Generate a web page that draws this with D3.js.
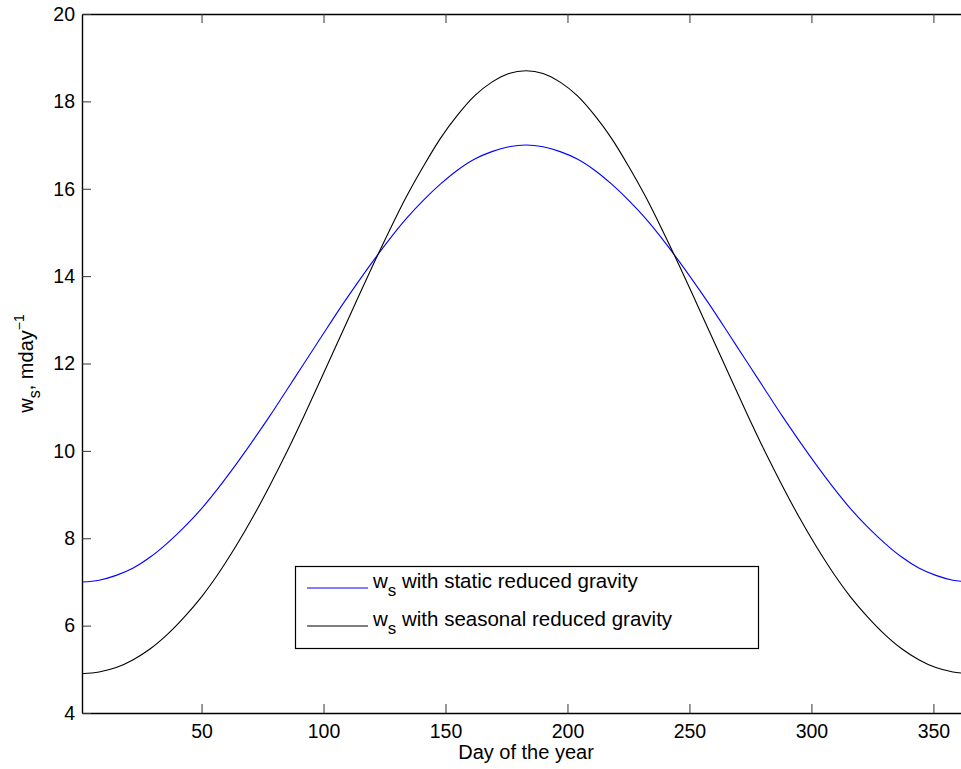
<!DOCTYPE html>
<html>
<head>
<meta charset="utf-8">
<script src="https://cdn.jsdelivr.net/npm/d3@7"></script>
<style>
  html, body { margin: 0; padding: 0; background: #fff; overflow: hidden; }
  svg { display: block; font-family: "Liberation Sans", Arial, Helvetica, sans-serif; }
</style>
</head>
<body>
<svg id="chart" width="961" height="769"></svg>
<script>
// Day of the year, sampled weekly
const days = [1, 8, 15, 22, 29, 36, 43, 50, 57, 64, 71, 78, 85, 92, 99, 106, 113, 120, 127, 134, 141, 148, 155, 162, 169, 176,
              183, 190, 197, 204, 211, 218, 225, 232, 239, 246, 253, 260, 267, 274, 281, 288, 295, 302, 309, 316, 323, 330,
              337, 344, 351, 358, 365];

// w_s (m/day) with static reduced gravity
const staticWs = [7.00, 7.04, 7.15, 7.32, 7.57, 7.89, 8.26, 8.68, 9.16, 9.68, 10.23, 10.80, 11.40, 12.00, 12.60, 13.20,
                  13.77, 14.32, 14.84, 15.32, 15.74, 16.11, 16.43, 16.68, 16.85, 16.96,
                  17.00,
                  16.96, 16.85, 16.68, 16.43, 16.11, 15.74, 15.32, 14.84, 14.32, 13.77, 13.20, 12.60, 12.00, 11.40, 10.80,
                  10.23, 9.68, 9.16, 8.68, 8.26, 7.89, 7.57, 7.32, 7.15, 7.04, 7.00];

// w_s (m/day) with seasonal reduced gravity
const seasonalWs = [4.90, 4.94, 5.04, 5.22, 5.47, 5.80, 6.20, 6.66, 7.20, 7.81, 8.48, 9.21, 9.98, 10.80, 11.65, 12.51,
                    13.37, 14.22, 15.04, 15.82, 16.52, 17.16, 17.69, 18.13, 18.44, 18.64,
                    18.70,
                    18.64, 18.44, 18.13, 17.69, 17.16, 16.52, 15.82, 15.04, 14.22, 13.37, 12.51, 11.65, 10.80, 9.98, 9.21,
                    8.48, 7.81, 7.20, 6.66, 6.20, 5.80, 5.47, 5.22, 5.04, 4.94, 4.90];

const xTicks = [50, 100, 150, 200, 250, 300, 350];
const yTicks = [4, 6, 8, 10, 12, 14, 16, 18, 20];

const seriesNames = ["static reduced gravity", "seasonal reduced gravity"];
const seriesColors = ["#0000ff", "#000000"];

const plotLeft = 82, plotTop = 14, plotRight = 970, plotBottom = 713;
const fontSize = 19.5;
const textSize = 20;

const svg = d3.select("#chart");

const x = d3.scaleLinear().domain([1, 365]).range([plotLeft, plotRight]);
const y = d3.scaleLinear().domain([4, 20]).range([plotBottom, plotTop]);

// Curves
const line = d3.line()
  .x((d, i) => x(days[i]))
  .y(d => y(d))
  .curve(d3.curveCatmullRom);

const plot = svg.append("g");
[staticWs, seasonalWs].forEach((vals, k) => {
  plot.append("path")
    .attr("d", line(vals))
    .attr("fill", "none")
    .attr("stroke", seriesColors[k])
    .attr("stroke-width", 1.1);
});

// Axes, ticks pointing inward
function styleAxis(g) {
  g.select(".domain").attr("stroke", "#000").attr("stroke-width", 1.4);
  g.selectAll(".tick line").attr("stroke", "#333").attr("stroke-width", 1);
  g.selectAll(".tick text")
    .attr("fill", "#000")
    .style("font-size", fontSize + "px")
    .style("font-family", "'Liberation Sans', Arial, Helvetica, sans-serif");
}

svg.append("g")
  .attr("transform", `translate(0,${plotBottom})`)
  .call(d3.axisBottom(x).tickValues(xTicks).tickSizeInner(-9).tickSizeOuter(0).tickPadding(11))
  .call(styleAxis);

svg.append("g")
  .attr("transform", `translate(0,${plotTop})`)
  .call(d3.axisTop(x).tickValues(xTicks).tickSizeInner(-9).tickSizeOuter(0).tickFormat(""))
  .call(styleAxis);

svg.append("g")
  .attr("transform", `translate(${plotLeft},0)`)
  .call(d3.axisLeft(y).tickValues(yTicks).tickSizeInner(-9).tickSizeOuter(0).tickPadding(7))
  .call(styleAxis);

svg.append("g")
  .attr("transform", `translate(${plotRight},0)`)
  .call(d3.axisRight(y).tickValues(yTicks).tickSizeInner(-9).tickSizeOuter(0).tickFormat(""))
  .call(styleAxis);

// Axis titles
svg.append("text")
  .attr("x", (plotLeft + plotRight) / 2)
  .attr("y", 759)
  .attr("text-anchor", "middle")
  .style("font-size", textSize + "px")
  .text("Day of the year");

const yl = svg.append("text")
  .attr("transform", `translate(33,${(plotTop + plotBottom) / 2}) rotate(-90)`)
  .attr("text-anchor", "middle")
  .style("font-size", textSize + "px");
yl.append("tspan").text("w");
yl.append("tspan").attr("dy", 7).style("font-size", "16px").text("s");
yl.append("tspan").attr("dy", -7).text(", mday");
yl.append("tspan").attr("dy", -9).style("font-size", "14px").text("\u22121");

// Legend
const legend = svg.append("g");
legend.append("rect")
  .attr("x", 295.5).attr("y", 566.5)
  .attr("width", 463).attr("height", 82)
  .attr("fill", "#fff")
  .attr("stroke", "#000")
  .attr("stroke-width", 1.2);

seriesNames.forEach((name, k) => {
  const ly = 588 + k * 38;
  legend.append("line")
    .attr("x1", 307).attr("x2", 368)
    .attr("y1", ly).attr("y2", ly)
    .attr("stroke", seriesColors[k])
    .attr("stroke-width", 1.1);
  const t = legend.append("text")
    .attr("x", 373)
    .attr("y", ly)
    .style("font-size", "20.5px");
  t.append("tspan").text("w");
  t.append("tspan").attr("dy", 8).style("font-size", "17px").text("s");
  t.append("tspan").attr("dy", -8).text(" with " + name);
});
</script>
</body>
</html>
